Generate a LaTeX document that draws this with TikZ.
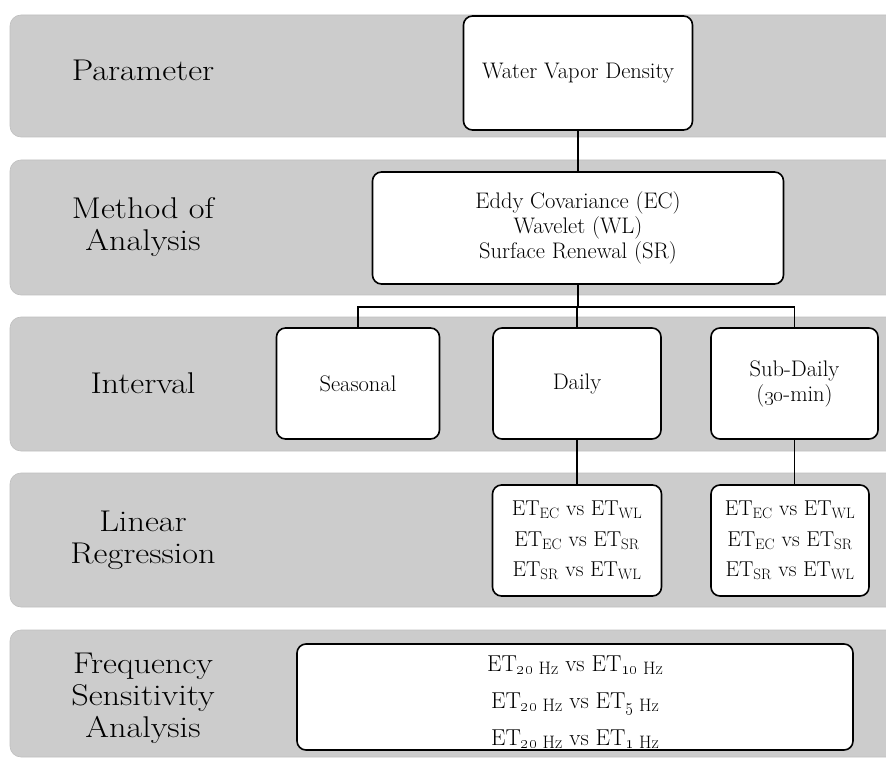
\documentclass[tikz,border=0pt]{standalone}
\definecolor{bandgray}{RGB}{204,204,204}
\newcommand{\labfont}{\fontsize{30}{32}\selectfont}
\newcommand{\boxfont}{\fontsize{22.5}{25}\selectfont}
\newcommand{\etfont}{\fontsize{21.5}{30.5}\selectfont}
\newcommand{\frfont}{\fontsize{23}{37}\selectfont}
\newcommand{\widetext}[1]{\scalebox{1.14}[1]{#1}}
\newcommand{\sub}[1]{\textsubscript{#1}}
\newcommand{\hzsub}[1]{\raisebox{-0.35ex}{\fontsize{18}{18}\selectfont #1}}
\newcommand{\osn}[1]{\oldstylenums{#1}}
\begin{document}
\begin{tikzpicture}[x=1pt,y=-1pt,
  band/.style={fill=bandgray, draw=black!25, line width=0.6pt, rounded corners=11pt},
  lab/.style={font=\labfont, align=center, inner sep=0pt},
  box/.style={draw=black, line width=1.6pt, fill=white, rounded corners=9pt,
    align=center, font=\boxfont, inner sep=0pt},
  link/.style={draw=black, line width=1.5pt}]
\useasboundingbox (0,0) rectangle (886,759);
\clip (0,0) rectangle (886,759);

% horizontal bands
\path[band] (10,15) rectangle (900,137);
\path[band] (10,160) rectangle (900,295);
\path[band] (10,317) rectangle (900,451);
\path[band] (10,473) rectangle (900,607);
\path[band] (10,630) rectangle (900,757);

% band titles
\node[lab] (tpar) at (143,70) {\widetext{Parameter}};
\node[lab] (tmet) at (143,227) {\widetext{Method of}\\\widetext{Analysis}};
\node[lab] (tint) at (143,383) {\widetext{Interval}};
\node[lab] (tlin) at (143,540) {\widetext{Linear}\\\widetext{Regression}};
\node[lab] (tfre) at (143,698) {\widetext{Frequency}\\\widetext{Sensitivity}\\\widetext{Analysis}};

% boxes
\node[box, minimum width=229pt, minimum height=114pt] (wvd) at (578,73) {Water Vapor Density};
\node[box, minimum width=411pt, minimum height=112pt] (met) at (578,228)
  {Eddy Covariance (EC)\\Wavelet (WL)\\Surface Renewal (SR)};
\node[box, minimum width=163pt, minimum height=111pt] (sea) at (358,383.5) {Seasonal};
\node[box, minimum width=168pt, minimum height=111pt] (day) at (577,383.5) {Daily};
\node[box, minimum width=167pt, minimum height=111pt] (sub) at (794.5,383.5) {Sub-Daily\\(\osn{30}-min)};
\node[box, font=\etfont, minimum width=169pt, minimum height=111pt] (lrd) at (577,540.5)
  {ET\sub{EC} vs ET\sub{WL}\\ET\sub{EC} vs ET\sub{SR}\\ET\sub{SR} vs ET\sub{WL}};
\node[box, font=\etfont, minimum width=158pt, minimum height=111pt] (lrs) at (790,540.5)
  {ET\sub{EC} vs ET\sub{WL}\\ET\sub{EC} vs ET\sub{SR}\\ET\sub{SR} vs ET\sub{WL}};
\node[box, minimum width=556pt, minimum height=106pt] (fre) at (575,697) {};
\node[font=\frfont, align=center, inner sep=0pt] (fretext) at ([yshift=-5pt]fre.center)
  {ET\hzsub{\osn{20} Hz} vs ET\hzsub{\osn{10} Hz}\\ET\hzsub{\osn{20} Hz} vs ET\hzsub{\osn{5} Hz}\\ET\hzsub{\osn{20} Hz} vs ET\hzsub{\osn{1} Hz}};

% connectors
\coordinate (bus) at (578,307);
\draw[link] (wvd.south) -- (met.north);
\draw[link] (met.south) -- (bus);
\draw[link] (sea.north) |- (sub.north |- bus) -- (sub.north);
\draw[link] (day.north) -- (day.north |- bus);
\draw[link] (day.south) -- (lrd.north);
\draw[link] (sub.south) -- (sub.south |- lrs.north);
\end{tikzpicture}
\end{document}
